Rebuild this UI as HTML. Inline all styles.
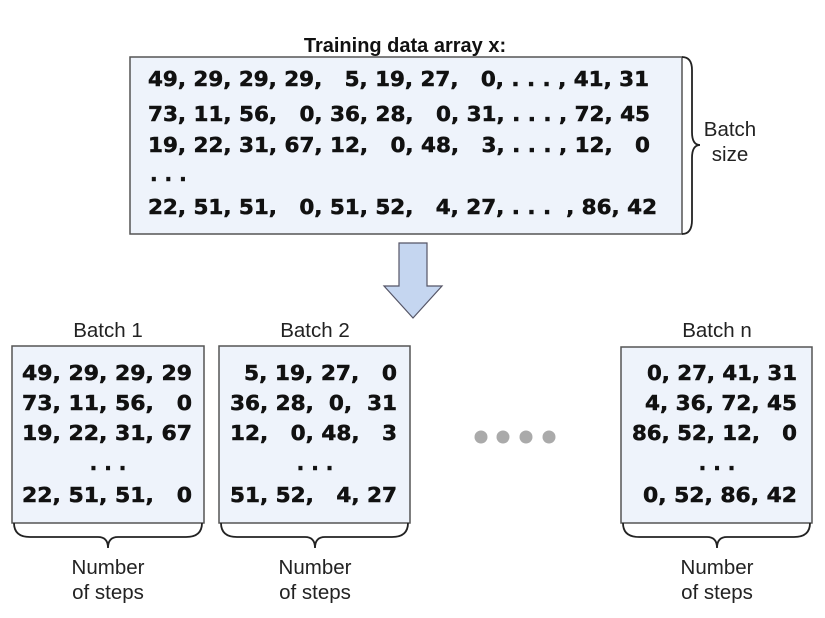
<!DOCTYPE html>
<html><head><meta charset="utf-8"><style>
html,body{margin:0;padding:0;background:#fff;width:825px;height:618px;overflow:hidden}
svg text{white-space:pre}
.m{font-family:"DejaVu Sans","Liberation Sans",sans-serif;font-weight:bold;font-size:20px;fill:#111;stroke:#111;stroke-width:0.5}
.l{font-family:"Liberation Sans",sans-serif;font-size:20.5px;fill:#222}
</style></head><body>
<svg width="825" height="618" xmlns="http://www.w3.org/2000/svg">
<text x="405" y="52" text-anchor="middle" style="font-family:'Liberation Sans',sans-serif;font-weight:bold;font-size:20px" fill="#111">Training data array x:</text>
<rect x="130" y="57" width="552" height="177" fill="#eef3fb" stroke="#555" stroke-width="1.5"/>
<g>
<text class="m" x="148" y="86" textLength="501" lengthAdjust="spacingAndGlyphs">49, 29, 29, 29,   5, 19, 27,   0, . . . , 41, 31</text>
<text class="m" x="148" y="121" textLength="502" lengthAdjust="spacingAndGlyphs">73, 11, 56,   0, 36, 28,   0, 31, . . . , 72, 45</text>
<text class="m" x="148" y="152" textLength="502" lengthAdjust="spacingAndGlyphs">19, 22, 31, 67, 12,   0, 48,   3, . . . , 12,   0</text>
<text class="m" x="150" y="181">. . .</text>
<text class="m" x="148" y="214" textLength="509" lengthAdjust="spacingAndGlyphs">22, 51, 51,   0, 51, 52,   4, 27, . . .  , 86, 42</text>
</g>
<path d="M682 57 Q692 57 692 70 L692 132 Q692 145 700 145 Q692 145 692 158 L692 220 Q692 234 682 234" fill="none" stroke="#222" stroke-width="1.8"/>
<text class="l" x="730" y="136" text-anchor="middle">Batch</text>
<text class="l" x="730" y="161" text-anchor="middle">size</text>
<path d="M399 243 L427 243 L427 286 L442 286 L413 318 L384 286 L399 286 Z" fill="#c5d6f0" stroke="#556" stroke-width="1.2"/>

<g>
<text class="l" x="108" y="337" text-anchor="middle">Batch 1</text>
<rect x="12" y="346" width="192" height="177" fill="#eef3fb" stroke="#555" stroke-width="1.5"/>
<text class="m" x="22" y="380" textLength="170" lengthAdjust="spacingAndGlyphs">49, 29, 29, 29</text>
<text class="m" x="22" y="410" textLength="170" lengthAdjust="spacingAndGlyphs">73, 11, 56,   0</text>
<text class="m" x="22" y="440" textLength="170" lengthAdjust="spacingAndGlyphs">19, 22, 31, 67</text>
<text class="m" x="108" y="470" text-anchor="middle">. . .</text>
<text class="m" x="22" y="502" textLength="170" lengthAdjust="spacingAndGlyphs">22, 51, 51,   0</text>
<path d="M14 523 Q14 537 30 537 L98 537 Q108 537 108 548 Q108 537 118 537 L186 537 Q202 537 202 523" fill="none" stroke="#222" stroke-width="1.8"/>
<text class="l" x="108" y="574" text-anchor="middle">Number</text>
<text class="l" x="108" y="599" text-anchor="middle">of steps</text>
</g>

<g>
<text class="l" x="315" y="337" text-anchor="middle">Batch 2</text>
<rect x="219" y="346" width="191" height="177" fill="#eef3fb" stroke="#555" stroke-width="1.5"/>
<text class="m" x="244" y="380" textLength="153" lengthAdjust="spacingAndGlyphs">5, 19, 27,   0</text>
<text class="m" x="230" y="410" textLength="167" lengthAdjust="spacingAndGlyphs">36, 28,  0,  31</text>
<text class="m" x="230" y="440" textLength="167" lengthAdjust="spacingAndGlyphs">12,   0, 48,   3</text>
<text class="m" x="315" y="470" text-anchor="middle">. . .</text>
<text class="m" x="230" y="502" textLength="167" lengthAdjust="spacingAndGlyphs">51, 52,   4, 27</text>
<path d="M221 523 Q221 537 237 537 L305 537 Q315 537 315 548 Q315 537 325 537 L392 537 Q408 537 408 523" fill="none" stroke="#222" stroke-width="1.8"/>
<text class="l" x="315" y="574" text-anchor="middle">Number</text>
<text class="l" x="315" y="599" text-anchor="middle">of steps</text>
</g>

<g fill="#aaa">
<circle cx="481" cy="437" r="6.5"/><circle cx="503" cy="437" r="6.5"/><circle cx="526" cy="437" r="6.5"/><circle cx="549" cy="437" r="6.5"/>
</g>

<g>
<text class="l" x="717" y="337" text-anchor="middle">Batch n</text>
<rect x="621" y="347" width="191" height="176" fill="#eef3fb" stroke="#555" stroke-width="1.5"/>
<text class="m" x="647" y="380" textLength="150" lengthAdjust="spacingAndGlyphs">0, 27, 41, 31</text>
<text class="m" x="645" y="410" textLength="152" lengthAdjust="spacingAndGlyphs">4, 36, 72, 45</text>
<text class="m" x="632" y="440" textLength="165" lengthAdjust="spacingAndGlyphs">86, 52, 12,   0</text>
<text class="m" x="717" y="470" text-anchor="middle">. . .</text>
<text class="m" x="643" y="502" textLength="154" lengthAdjust="spacingAndGlyphs">0, 52, 86, 42</text>
<path d="M623 523 Q623 537 639 537 L707 537 Q717 537 717 548 Q717 537 727 537 L794 537 Q810 537 810 523" fill="none" stroke="#222" stroke-width="1.8"/>
<text class="l" x="717" y="574" text-anchor="middle">Number</text>
<text class="l" x="717" y="599" text-anchor="middle">of steps</text>
</g>
</svg>
</body></html>
